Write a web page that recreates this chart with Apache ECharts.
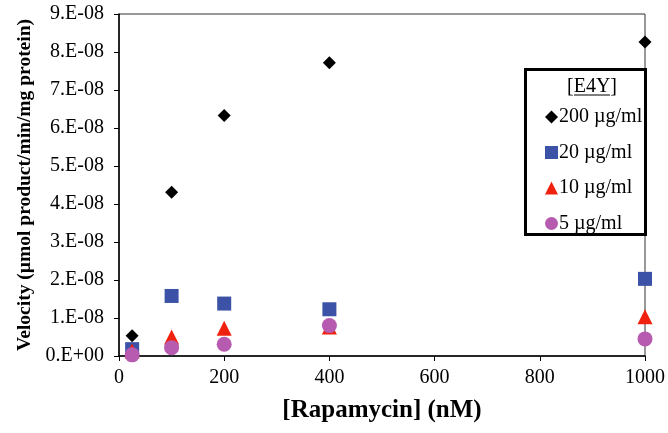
<!DOCTYPE html>
<html>
<head>
<meta charset="utf-8">
<script src="https://cdn.jsdelivr.net/npm/echarts@6/dist/echarts.min.js"></script>
<style>
  html, body { margin: 0; padding: 0; background: #fff; }
  #chart { width: 668px; height: 433px; }
</style>
</head>
<body>
<div id="chart"></div>
<script>
// rapamycin concentrations (nM)
var rapa = [25, 100, 200, 400, 1000];
// velocity, umol product/min/mg protein
var v200 = [0.53e-8, 4.31e-8, 6.33e-8, 7.72e-8, 8.26e-8];
var v20 = [0.18e-8, 1.58e-8, 1.38e-8, 1.23e-8, 2.03e-8];
var v10 = [0.13e-8, 0.5e-8, 0.73e-8, 0.76e-8, 1.03e-8];
var v5 = [0.03e-8, 0.22e-8, 0.31e-8, 0.8e-8, 0.45e-8];
var names = ['200 µg/ml', '20 µg/ml', '10 µg/ml', '5 µg/ml'];

var serif = '"Liberation Serif", "Times New Roman", serif';

function pts (ys) {
  var out = [];
  for (var i = 0; i < rapa.length; i++) {
    out.push([rapa[i], ys[i]]);
  }
  return out;
}

// 1.E-08 style labels
function yfmt (v) {
  var n = Math.round(v / 1e-8);
  if (n === 0) return '0.E+00';
  return n + '.E-08';
}

var chart = echarts.init(document.getElementById('chart'));
var option = {
  animation: false,
  backgroundColor: '#fff',
  textStyle: { fontFamily: serif, color: '#000' },
  grid: {
    left: 119, top: 14, right: 20, bottom: 77,
    show: true, borderColor: '#333', borderWidth: 1
  },
  xAxis: {
    type: 'value', min: 0, max: 1000, interval: 200,
    name: '[Rapamycin] (nM)', nameLocation: 'middle', nameGap: 42,
    nameTextStyle: { fontFamily: serif, fontSize: 25, fontWeight: 'bold', color: '#000' },
    axisLine: { show: true, lineStyle: { color: '#000', width: 1.5 } },
    axisTick: { show: true, length: 5, lineStyle: { color: '#000' } },
    axisLabel: { fontFamily: serif, fontSize: 20, color: '#000', margin: 12,
      formatter: function (v) { return String(v); } },
    splitLine: { show: false }
  },
  yAxis: {
    type: 'value', min: 0, max: 9e-8, interval: 1e-8,
    name: 'Velocity (µmol product/min/mg protein)', nameLocation: 'middle', nameGap: 84,
    nameTextStyle: { fontFamily: serif, fontSize: 19.5, fontWeight: 'bold', color: '#000' },
    axisLine: { show: true, lineStyle: { color: '#000', width: 1.5 } },
    axisTick: { show: true, length: 5, lineStyle: { color: '#000' } },
    axisLabel: { fontFamily: serif, fontSize: 20, color: '#000', margin: 15, formatter: yfmt },
    splitLine: { show: false }
  },
  legend: {
    orient: 'vertical', left: 540, top: 102,
    itemWidth: 13, itemHeight: 13, itemGap: 15.5,
    textStyle: { fontFamily: serif, fontSize: 20, lineHeight: 20, color: '#000', padding: [0, 0, 0, -4] },
    data: names
  },
  graphic: [
    // legend frame
    { type: 'rect', left: 524, top: 68, z: 0,
      shape: { width: 120, height: 165 },
      style: { fill: '#fff', stroke: '#000', lineWidth: 3 } },
    { type: 'text', left: 567, top: 77, z: 10,
      style: { text: '[E4Y]', font: '20px ' + serif, fill: '#000' } },
    { type: 'line', z: 10,
      shape: { x1: 574, y1: 95, x2: 610, y2: 95 },
      style: { stroke: '#000', lineWidth: 1 } }
  ],
  series: [
    { name: names[0], type: 'scatter', symbol: 'diamond', symbolSize: 13,
      itemStyle: { color: '#000', opacity: 1 }, data: pts(v200) },
    { name: names[1], type: 'scatter', symbol: 'rect', symbolSize: 14,
      itemStyle: { color: '#3b52a6', opacity: 1 }, data: pts(v20) },
    { name: names[2], type: 'scatter', symbol: 'triangle', symbolSize: 15,
      itemStyle: { color: '#f0220f', opacity: 1 }, data: pts(v10) },
    { name: names[3], type: 'scatter', symbol: 'circle', symbolSize: 15,
      itemStyle: { color: '#b75bb0', opacity: 1 }, data: pts(v5) }
  ]
};
chart.setOption(option);
</script>
</body>
</html>
